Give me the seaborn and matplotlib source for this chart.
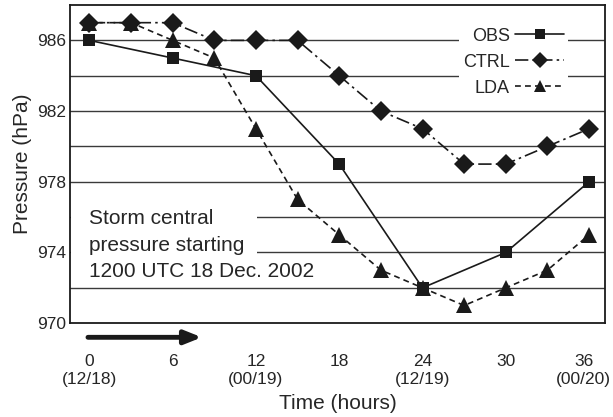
import matplotlib
matplotlib.use("Agg")
import matplotlib.pyplot as plt
import matplotlib.transforms as mtransforms
from matplotlib.patches import Rectangle
import pandas as pd
import seaborn as sns

# Data
obs_hours = [0, 6, 12, 18, 24, 30, 36]
obs_pres = [986, 985, 984, 979, 972, 974, 978]

model_hours = [0, 3, 6, 9, 12, 15, 18, 21, 24, 27, 30, 33, 36]
ctrl_pres = [987, 987, 987, 986, 986, 986, 984, 982, 981, 979, 979, 980, 981]
lda_pres = [987, 987, 986, 985, 981, 977, 975, 973, 972, 971, 972, 973, 975]

xtick_vals = [0, 6, 12, 18, 24, 30, 36]
xtick_labels = ["0\n(12/18)", "6", "12\n(00/19)", "18", "24\n(12/19)", "30", "36\n(00/20)"]
ytick_vals = [970, 974, 978, 982, 986]

obs = pd.DataFrame({"hour": obs_hours, "pressure": obs_pres})
ctrl = pd.DataFrame({"hour": model_hours, "pressure": ctrl_pres})
lda = pd.DataFrame({"hour": model_hours, "pressure": lda_pres})

sns.set_style("white")
plt.rcParams["font.family"] = ["Liberation Sans", "DejaVu Sans"]

fig = plt.figure(figsize=(6.13, 4.17), dpi=100)
ax = fig.add_axes([0.115, 0.225, 0.872, 0.763])

ink = "#1a1a1a"

# horizontal grid lines every 2 hPa
for yv in range(972, 988, 2):
    ax.axhline(yv, color="#3a3a3a", lw=1.0, zorder=0)

sns.lineplot(data=lda, x="hour", y="pressure", ax=ax, color=ink, lw=1.2,
             marker="^", markersize=11, markeredgewidth=0, label="LDA", zorder=3)
sns.lineplot(data=ctrl, x="hour", y="pressure", ax=ax, color=ink, lw=1.2,
             marker="D", markersize=10.5, markeredgewidth=0, label="CTRL", zorder=4)
sns.lineplot(data=obs, x="hour", y="pressure", ax=ax, color=ink, lw=1.2,
             marker="s", markersize=9, markeredgewidth=0, label="OBS", zorder=5)

lines = ax.get_lines()[-3:]
lines[0].set_dashes([3.5, 2.5])
lines[1].set_dashes([8, 2.5, 1.5, 2.5])

ax.set_xlim(-1.36, 37.15)
ax.set_ylim(970, 988)
ax.set_xticks(xtick_vals)
ax.set_xticklabels(xtick_labels, fontsize=12.5, linespacing=1.3)
ax.set_yticks(ytick_vals)
ax.tick_params(axis="y", length=0, labelsize=12.5, pad=3)
ax.tick_params(axis="x", direction="in", length=9, width=1, color=ink, pad=22)
ax.set_xlabel("Time (hours)", fontsize=15, labelpad=4.5)
ax.set_ylabel("Pressure (hPa)", fontsize=15, labelpad=4)

# last tick label sits a little left so it stays inside the figure
last = ax.get_xticklabels()[-1]
last.set_transform(last.get_transform()
                   + mtransforms.ScaledTranslation(-4 / 72, 0, fig.dpi_scale_trans))

for s in ax.spines.values():
    s.set_color(ink)
    s.set_linewidth(1.3)

handles, labels = ax.get_legend_handles_labels()
order = [labels.index(n) for n in ["OBS", "CTRL", "LDA"]]
ax.legend([handles[i] for i in order], [labels[i] for i in order],
          loc="upper right", bbox_to_anchor=(0.93, 0.94), markerfirst=False,
          markerscale=0.75, handlelength=2.7, handletextpad=0.3,
          labelspacing=0.5, fontsize=13,
          frameon=True, facecolor="white", edgecolor="none", framealpha=1,
          borderpad=0.2, borderaxespad=0)

# white patch that hides the grid lines behind the note
ax.add_patch(Rectangle((-1.3, 973.3), 13.35, 3.9, facecolor="white",
                       edgecolor="none", zorder=1))
ax.text(0, 976.45, "Storm central\npressure starting\n1200 UTC 18 Dec. 2002",
        fontsize=15, ha="left", va="top", linespacing=1.5, zorder=2)

ax.annotate("", xy=(8.1, 969.2), xytext=(-0.1, 969.2), annotation_clip=False,
            arrowprops=dict(arrowstyle="-|>,head_length=1.0,head_width=0.4",
                            lw=3.5, color=ink, shrinkA=0, shrinkB=0))

fig.savefig("out.png", dpi=100)
